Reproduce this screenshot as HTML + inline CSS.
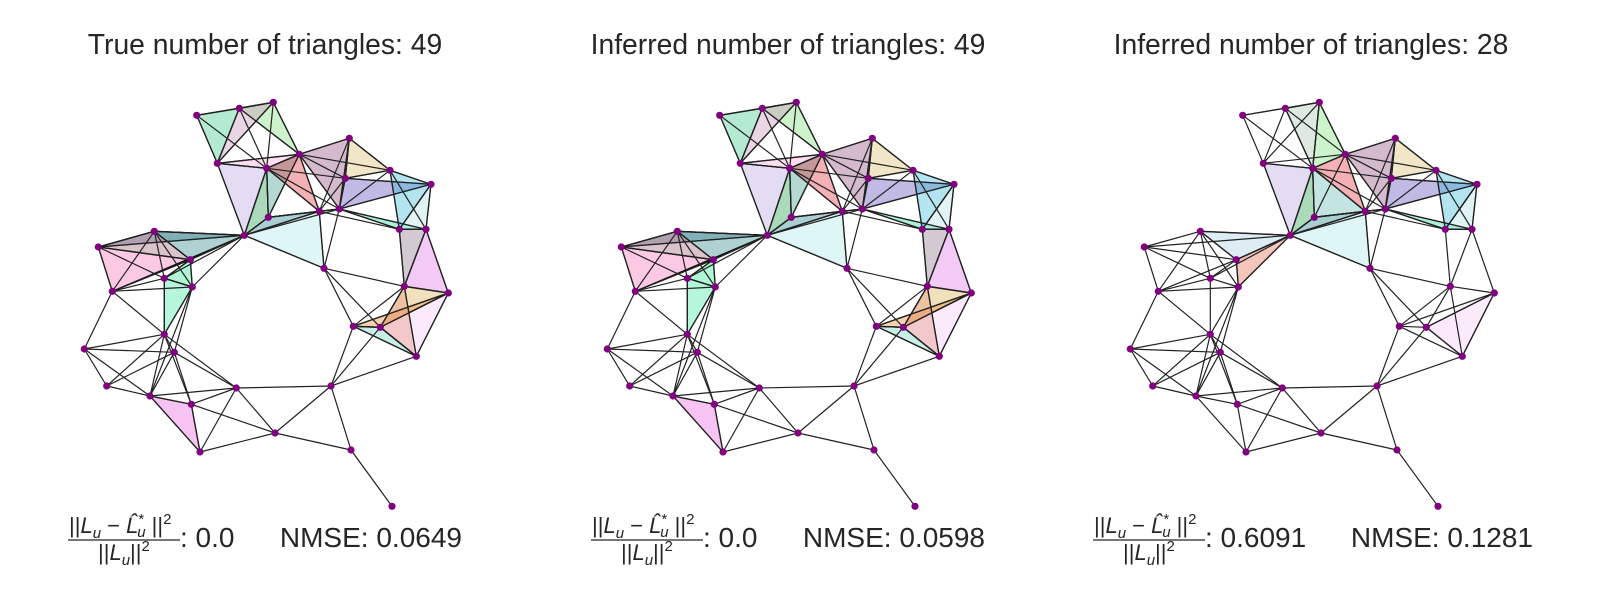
<!DOCTYPE html>
<html><head><meta charset="utf-8"><style>
html,body{margin:0;padding:0;background:#fff;}
svg{display:block;font-family:"Liberation Sans",sans-serif;}
</style></head><body>
<svg id="fig" width="1600" height="600" viewBox="0 0 1600 600" xmlns="http://www.w3.org/2000/svg">
<rect width="1600" height="600" fill="#fff"/>
</svg>
<script>
const NODE_NAMES = ["A","B","C","D","E","F","G","H","I","J","K","L","M","N","O","P","Q","R","S","T","U","V","W","X","Y","Z1","Z2","Z3","Z4","Z5","Z6","Z7","Z8","Z9","Z10","Z11","Z12","Z13","Z14","Z15"];
const NODE_X = [196.7,239.3,273.3,217.3,266.7,299.3,349.3,390,345.3,431,268.3,319.3,339.3,399.3,426,244.3,154.3,98.3,190.3,164.3,192.3,112.3,324,404.3,448.3,164.3,84.3,174.3,106.7,150,191.3,236.3,275,200,331,351,392,353.3,380.3,416.3];
const NODE_Y = [115.3,108.3,102.3,163.3,168.3,154.3,138.3,170.3,178.3,184.3,217.3,211.3,209,229.3,229.3,235.3,231.3,247,259.7,278.3,287,291.3,268.3,286.3,293,334.3,349,352.3,386,396,404.3,388,433,452,386,450,506.3,326.3,327.3,356.3];
const EDGES = "A-B,B-C,A-C,A-D,B-D,C-D,A-E,B-E,C-E,C-F,B-F,D-E,D-F,E-F,D-P,E-P,E-K,K-P,E-L,E-M,F-K,F-L,F-M,F-G,F-H,F-I,G-H,G-I,G-L,G-M,K-L,K-M,L-M,E-I,I-H,I-J,I-M,I-L,H-J,H-M,H-N,H-O,J-M,J-N,J-O,M-N,M-O,L-N,N-O,P-L,P-M,P-W,L-W,M-W,P-Q,P-R,P-S,P-T,P-U,Q-R,Q-S,Q-T,Q-U,Q-V,R-S,R-T,R-V,S-T,S-U,S-V,T-U,T-V,U-V,T-Z1,U-Z1,U-Z3,U-Z5,V-Z1,V-Z2,Z1-Z2,Z1-Z3,Z1-Z4,Z1-Z5,Z1-Z6,Z1-Z7,Z2-Z3,Z2-Z4,Z2-Z5,Z3-Z4,Z3-Z5,Z3-Z6,Z3-Z7,Z4-Z5,Z5-Z6,Z5-Z7,Z5-Z9,Z6-Z7,Z6-Z8,Z6-Z9,Z7-Z8,Z7-Z9,Z7-Z10,Z8-Z9,Z8-Z10,Z8-Z11,Z10-Z11,Z11-Z12,Z10-Z13,Z10-Z14,Z10-Z15,W-X,W-Z13,W-Z14,N-X,O-X,O-Y,X-Y,X-Z13,X-Z14,X-Z15,Y-Z13,Y-Z14,Y-Z15,Z13-Z14,Z13-Z15,Z14-Z15".split(",");
const TRIS_FULL = ["A-B-D","B-C-F","B-C-D","D-E-F","D-E-P","E-K-P","E-F-K","F-G-M","E-F-L","K-L-M","G-H-I","I-J-M","H-J-N","M-N-O","J-N-O","P-L-W","P-K-L","Q-R-P","Q-S-P","R-S-V","R-Q-S","S-P-V","S-T-U","T-U-Z1","N-O-X","O-X-Y","X-Y-Z14","Z13-Y-Z14","Z14-Y-Z15","X-Z15-Z14","Z13-Z14-Z15","Z5-Z6-Z9"];
const COLS_FULL = ["#3cc98a","#7be07b","#c990b8","#f5a8d8","#b9a3e0","#1f9e4a","#3a9a8a","#8e4a78","#e0303c","#7a3c30","#d9bc6e","#5a4ab8","#3ab8d8","#20d8a0","#b0e0e6","#a8e8e8","#20808a","#4a6e90","#2a8a8a","#f570b8","#a06078","#a89a60","#30e890","#40e8a0","#8a7088","#e070e8","#d8b050","#e88830","#f5c8f8","#e89078","#70d0c0","#e860e0"];
const TRIS_P3 = ["B-C-E","C-E-F","D-E-P","E-K-P","E-K-L","F-G-M","E-F-L","K-L-M","G-H-I","I-J-M","H-J-N","M-N-O","J-N-O","P-L-W","P-K-L","Q-S-P","S-U-P","Z14-Y-Z15"];
const COLS_P3 = ["#a8c8b0","#7be07b","#b9a3e0","#1f9e4a","#60b8b0","#8e4a78","#e0303c","#7a3c30","#d9bc6e","#5a4ab8","#3ab8d8","#20d8a0","#b0e0e6","#a8e8e8","#20808a","#a8d0e0","#e06a50","#f5c8f8"];
const TITLES = ["True number of triangles: 49","Inferred number of triangles: 49","Inferred number of triangles: 28"];
const ERR_VALUES = ["0.0","0.0","0.6091"];
const NMSE_VALUES = ["0.0649","0.0598","0.1281"];
const PANEL_OFFSETS = [0,523,1046];

const NS="http://www.w3.org/2000/svg";
const fig=document.getElementById('fig');
function mk(t,a,p){const e=document.createElementNS(NS,t);for(const k in a)e.setAttribute(k,a[k]);(p||fig).appendChild(e);return e;}
const idx={};NODE_NAMES.forEach((n,i)=>idx[n]=i);

for(let p=0;p<3;p++){
  const dx=PANEL_OFFSETS[p];
  const g=mk('g',{});
  
  
  const px=n=>NODE_X[idx[n]]+dx, py=n=>NODE_Y[idx[n]];
  const tris=p<2?TRIS_FULL:TRIS_P3, cols=p<2?COLS_FULL:COLS_P3;
  tris.forEach((t,i)=>{
    const v=t.split("-");
    const e=mk('polygon',{points:v.map(n=>px(n)+","+py(n)).join(" "),fill:cols[i],'fill-opacity':0.38,stroke:'#111','stroke-width':1.3},g);
    
    
  });
  EDGES.forEach(ed=>{
    const [a,b]=ed.split("-");
    const e=mk('line',{x1:px(a),y1:py(a),x2:px(b),y2:py(b),stroke:'#222','stroke-width':1.2},g);
    
    
  });
  NODE_NAMES.forEach(n=>{
    const e=mk('circle',{cx:px(n),cy:py(n),r:3.6,fill:'#800080'},g);
    
    
  });
  const cx=265+dx;
  const tt=mk('text',{x:cx,y:54,'text-anchor':'middle','font-size':28.3,fill:'#262626'},g);
  tt.textContent=TITLES[p];
  
  
  const fracL=[68,591,1093][p];
  const num=mk('text',{x:fracL+1,y:533,'font-size':22,fill:'#262626'},g);
  
  
  num.innerHTML='||<tspan font-style="italic">L</tspan><tspan font-size="15" dy="5" font-style="italic">u</tspan><tspan dy="-5"> − </tspan><tspan font-style="italic">L̂</tspan><tspan font-size="15" dy="-9">*</tspan><tspan font-size="15" dy="13" dx="-7" font-style="italic">u</tspan><tspan dy="-4"> ||</tspan><tspan font-size="15" dy="-9">2</tspan>';
  mk('line',{x1:fracL,y1:540,x2:fracL+112,y2:540,stroke:'#262626','stroke-width':1.2},g);
  const den=mk('text',{x:fracL+30,y:560,'font-size':22,fill:'#262626'},g);
  
  
  den.innerHTML='||<tspan font-style="italic">L</tspan><tspan font-size="15" dy="5" font-style="italic">u</tspan><tspan dy="-5">||</tspan><tspan font-size="15" dy="-9">2</tspan>';
  const ev=mk('text',{x:fracL+112,y:547,'font-size':28,fill:'#262626'},g);
  ev.textContent=': '+ERR_VALUES[p];
  
  
  const nmseR=[462,985,1533][p];
  const nm=mk('text',{x:nmseR,y:547,'font-size':28,'text-anchor':'end',fill:'#262626'},g);
  nm.textContent='NMSE: '+NMSE_VALUES[p];
  
  
}
</script>
</body></html>
